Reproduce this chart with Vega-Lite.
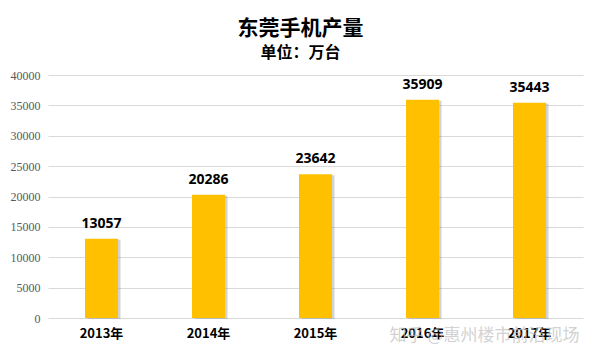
{
  "$schema": "https://vega.github.io/schema/vega-lite/v6.json",
  "width": 535,
  "height": 243,
  "autosize": {"type": "none"},
  "padding": {"left": 48, "top": 75, "right": 16, "bottom": 42},
  "background": "white",
  "title": {
    "text": "东莞手机产量",
    "subtitle": "单位：万台",
    "anchor": "middle",
    "dx": -15,
    "offset": 8,
    "font": "Noto Sans CJK SC",
    "fontSize": 21,
    "fontWeight": "bold",
    "color": "#000000",
    "subtitleFont": "Noto Sans CJK SC",
    "subtitleFontSize": 16,
    "subtitleFontWeight": "bold",
    "subtitleColor": "#000000",
    "subtitlePadding": 6
  },
  "data": {
    "values": [
      {"year": "2013年", "value": 13057},
      {"year": "2014年", "value": 20286},
      {"year": "2015年", "value": 23642},
      {"year": "2016年", "value": 35909},
      {"year": "2017年", "value": 35443}
    ]
  },
  "encoding": {
    "x": {
      "field": "year",
      "type": "nominal",
      "sort": null,
      "scale": {"paddingInner": 0, "paddingOuter": 0},
      "axis": {
        "title": null,
        "labelAngle": 0,
        "labelFont": "Noto Sans CJK SC",
        "labelFontSize": 13,
        "labelFontWeight": "bold",
        "labelColor": "#000000",
        "labelPadding": 9,
        "domain": false,
        "ticks": false,
        "grid": false
      }
    },
    "y": {
      "field": "value",
      "type": "quantitative",
      "scale": {"domain": [0, 40000], "nice": false},
      "axis": {
        "title": null,
        "format": "d",
        "values": [0, 5000, 10000, 15000, 20000, 25000, 30000, 35000, 40000],
        "labelFont": "Liberation Sans Narrow",
        "labelFontSize": 12,
        "labelColor": "#595959",
        "labelPadding": 8,
        "domain": false,
        "ticks": false,
        "gridColor": "#D9D9D9",
        "gridWidth": 1
      }
    }
  },
  "layer": [
    {
      "mark": {"type": "bar", "size": 33, "color": "#808080", "opacity": 0.35, "xOffset": 2.5, "yOffset": 1},
      "encoding": {}
    },
    {
      "mark": {"type": "bar", "size": 33, "color": "#FFC000"},
      "encoding": {}
    },
    {
      "mark": {"type": "text", "baseline": "bottom", "dy": -8, "font": "Noto Sans", "fontSize": 14, "fontWeight": "bold", "color": "#000000"},
      "encoding": {"text": {"field": "value", "type": "quantitative", "format": "d"}}
    },
    {
      "data": {"values": [{"year": "2016年", "value": -2900, "label": "知乎 @惠州楼市前沿现场"}]},
      "mark": {"type": "text", "align": "left", "baseline": "middle", "dx": -33, "clip": false, "font": "Noto Sans CJK SC", "fontSize": 17, "color": "#BFBFBF", "opacity": 0.7},
      "encoding": {
        "text": {"field": "label", "type": "nominal"}
      }
    }
  ],
  "config": {"view": {"stroke": null}}
}
